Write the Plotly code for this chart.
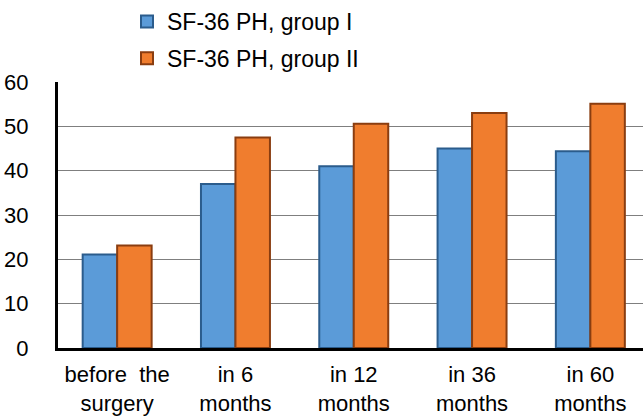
import plotly.graph_objects as go

categories = ["before  the<br>surgery", "in 6<br>months", "in 12<br>months", "in 36<br>months", "in 60<br>months"]
group1 = [21.1, 37.0, 41.0, 45.0, 44.4]
group2 = [23.1, 47.5, 50.6, 53.0, 55.1]
series_names = ["SF-36 PH, group I", "SF-36 PH, group II"]
y_ticks = [0, 10, 20, 30, 40, 50, 60]

FONT = "Liberation Sans, Arial, sans-serif"

fig = go.Figure()
fig.add_trace(go.Bar(
    x=categories, y=group1, name=series_names[0], legendgroup="g1",
    marker=dict(color="#5b9bd8", line=dict(color="#2b5c8c", width=2)),
))
fig.add_trace(go.Bar(
    x=categories, y=group2, name=series_names[1], legendgroup="g2",
    marker=dict(color="#f07d2e", line=dict(color="#8a3d10", width=2)),
))

fig.update_layout(
    width=643, height=417,
    margin=dict(l=58, r=0, t=82, b=69),
    paper_bgcolor="white", plot_bgcolor="white",
    barmode="group", bargap=0.417, bargroupgap=0,
    font=dict(family=FONT, color="#000000", size=22),
    showlegend=True,
    legend=dict(
        x=(127 - 58) / 585, xanchor="left", y=1 + 82 / 266, yanchor="top",
        font=dict(size=23, family=FONT, color="#000"),
        traceorder="grouped", tracegroupgap=4, itemwidth=30,
        bgcolor="rgba(0,0,0,0)",
    ),
    xaxis=dict(
        range=[-0.5, 4.445], showline=True, linecolor="#000", linewidth=3,
        showgrid=False, ticks="", tickfont=dict(size=22, family=FONT),
        ticklabelstandoff=5, fixedrange=True,
    ),
    yaxis=dict(
        range=[0, 60], tickvals=y_ticks, showline=True, linecolor="#000", linewidth=3,
        showgrid=True, gridcolor="#7f7f7f", gridwidth=1, zeroline=False,
        ticks="", tickfont=dict(size=22, family=FONT), ticklabelstandoff=22,
    ),
)

fig.write_html("out.html")
